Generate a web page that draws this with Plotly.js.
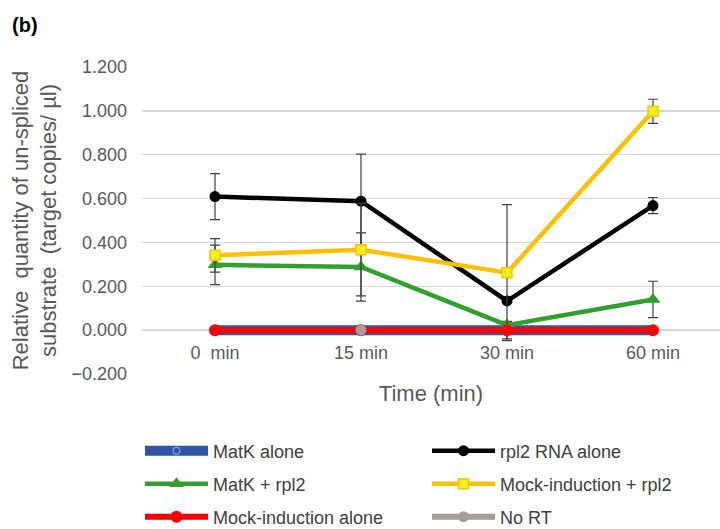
<!DOCTYPE html>
<html>
<head>
<meta charset="utf-8">
<script src="https://cdn.plot.ly/plotly-3.0.1.min.js"></script>
<style>html,body{margin:0;padding:0;background:#fff;}#chart{width:720px;height:529px;}</style>
</head>
<body>
<div id="chart"></div>
<script>
// categories
const timePoints = ["0  min", "15 min", "30 min", "60 min"];
// series values
const matkAlone = [0, 0, 0, 0];
const matkAloneErr = [0, 0, 0.04, 0];
const rpl2Alone = [0.609, 0.588, 0.133, 0.568];
const rpl2AloneErr = [0.105, 0.215, 0.0, 0.037];
const matkRpl2 = [0.298, 0.288, 0.023, 0.140];
const matkRpl2Err = [0.090, 0.156, 0.010, 0.083];
const mockRpl2 = [0.341, 0.367, 0.262, 0.998];
const mockRpl2Err = [0.076, 0.211, 0.310, 0.055];
const mockAlone = [0, 0, 0, 0];
const noRT = [null, 0, null, null];
// tick labels
const yTickVals = [-0.2, 0, 0.2, 0.4, 0.6, 0.8, 1.0, 1.2];

const errStyle = (arr) => ({type: 'data', array: arr, visible: true, color: '#404040', thickness: 1.2, width: 5});
const FONT = 'Liberation Sans, Arial, sans-serif';

const traces = [
  {name: 'MatK alone', x: timePoints, y: matkAlone, mode: 'lines+markers', legend: 'legend',
   line: {color: '#2f55a4', width: 10}, marker: {symbol: 'circle-open', size: 7, color: '#6f9bd8', line: {width: 1.5}},
   error_y: errStyle(matkAloneErr)},
  {name: 'rpl2 RNA alone', x: timePoints, y: rpl2Alone, mode: 'lines+markers', legend: 'legend',
   line: {color: '#000000', width: 4.5}, marker: {symbol: 'circle', size: 11, color: '#000000'},
   error_y: errStyle(rpl2AloneErr)},
  {name: 'MatK + rpl2', x: timePoints, y: matkRpl2, mode: 'lines+markers', legend: 'legend2',
   line: {color: '#31a02f', width: 4.5}, marker: {symbol: 'triangle-up', size: 13, color: '#31a02f'},
   error_y: errStyle(matkRpl2Err)},
  {name: 'Mock-induction + rpl2', x: timePoints, y: mockRpl2, mode: 'lines+markers', legend: 'legend2',
   line: {color: '#ffc000', width: 4.5}, marker: {symbol: 'square', size: 10, color: '#f2f21a', line: {color: '#ffc000', width: 1.5}},
   error_y: errStyle(mockRpl2Err)},
  {name: 'Mock-induction alone', x: timePoints, y: mockAlone, mode: 'lines+markers', legend: 'legend3',
   line: {color: '#ff0000', width: 6}, marker: {symbol: 'circle', size: 12, color: '#ff0000'}},
  {name: 'No RT', x: timePoints, y: noRT, mode: 'lines+markers', legend: 'legend3', connectgaps: true,
   line: {color: '#a39e97', width: 6}, marker: {symbol: 'circle', size: 11, color: '#a39e97'}}
];

const legendBase = (ypos) => ({
  orientation: 'h', xref: 'container', yref: 'container', x: 140 / 720, xanchor: 'left', y: ypos, yanchor: 'middle',
  font: {family: FONT, size: 18, color: '#404040'}, bgcolor: 'rgba(0,0,0,0)',
  entrywidth: 209, entrywidthmode: 'pixels', itemwidth: 63, traceorder: 'normal'
});

const layout = {
  width: 720, height: 529,
  margin: {l: 142, r: 0, t: 67, b: 155, autoexpand: false},
  paper_bgcolor: '#ffffff', plot_bgcolor: '#ffffff',
  font: {family: FONT, color: '#595959'},
  showlegend: true,
  legend: legendBase(1 - 451 / 529),
  legend2: legendBase(1 - 484 / 529),
  legend3: legendBase(1 - 517 / 529),
  xaxis: {
    type: 'category', range: [-0.5, 3.459], anchor: 'free', position: 44 / 307,
    showgrid: false, showline: false, zeroline: false, ticks: '', automargin: false,
    ticklabelstandoff: 10,
    tickfont: {family: FONT, size: 18, color: '#595959'},
    title: {text: 'Time (min)', font: {family: FONT, size: 22, color: '#595959'}, standoff: 23}
  },
  yaxis: {
    range: [-0.2, 1.2], tickvals: yTickVals, tickformat: '.3f', automargin: false,
    showgrid: true, gridcolor: '#dbd8d3', gridwidth: 1.5,
    zeroline: true, zerolinecolor: '#dbd8d3', zerolinewidth: 1.5,
    showline: false, ticks: '', ticklabelstandoff: 14,
    tickfont: {family: FONT, size: 18, color: '#595959'},
    title: {text: 'Relative  quantity of un-spliced<br>substrate  (target copies/ µl)',
            font: {family: FONT, size: 22, color: '#595959'}, standoff: 8}
  },
  annotations: [
    {text: '<b>(b)</b>', xref: 'paper', yref: 'paper', x: -0.228, y: 1 + 42 / 307, xanchor: 'left', yanchor: 'middle',
     showarrow: false, font: {family: FONT, size: 20, color: '#000000'}}
  ]
};

Plotly.newPlot('chart', traces, layout, {displayModeBar: false, staticPlot: true});
</script>
</body>
</html>
